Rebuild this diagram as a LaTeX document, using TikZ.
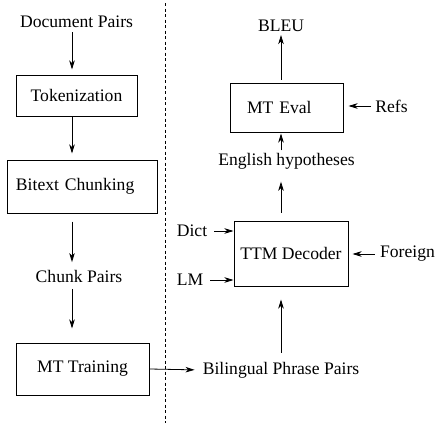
\documentclass[tikz,border=0pt]{standalone}
\usepackage{fontspec}
\setmainfont{Liberation Serif}
\usetikzlibrary{arrows.meta}

\begin{document}
\begin{tikzpicture}[
        x=1pt,
        y=-1pt,
        font=\fontsize{17.6}{21}\selectfont,
        >={Stealth[length=9pt,width=5.5pt,inset=2.5pt]},
        flow/.style={->, line width=0.8pt},
        stage/.style={draw, line width=1pt, inner sep=0pt, align=center},
        word/.style={inner sep=0pt},
        split/.style={dashed, dash pattern=on 3pt off 2.5pt, line width=0.8pt}
    ]
        \useasboundingbox (0,0) rectangle (437,423);

        % Columns for the vertical arrows on each side.
        \coordinate (lcol) at (72,0);
        \coordinate (rcol) at (281,0);

        % Training pipeline (left).
        \node[word] (doc) at (76.5,22) {Document Pairs};
        \node[stage, minimum width=121pt, minimum height=41pt] (tok) at (76.5,95.5) {Tokenization};
        \node[stage, text width=132pt, inner xsep=9pt, align=left, minimum height=53pt] (chunk) at (82,186.5) {Bitext Chunking};
        \node[word] (cpairs) at (79,276.5) {Chunk Pairs};
        \node[stage, minimum width=133pt, minimum height=52pt] (train) at (82.5,369) {MT Training};

        \draw[flow, shorten <=4pt, shorten >=5pt] (doc.south -| lcol) -- (tok.north -| lcol);
        \draw[flow, shorten >=6pt] (tok.south -| lcol) -- (chunk.north -| lcol);
        \draw[flow, shorten <=8pt, shorten >=8pt] (chunk.south -| lcol) -- (cpairs.north -| lcol);
        \draw[flow, shorten <=6pt, shorten >=14pt] (cpairs.south -| lcol) -- (train.north -| lcol);

        % Decoding and evaluation (right).
        \node[word] (phrase) at (281,370) {Bilingual Phrase Pairs};
        \node[stage, minimum width=114pt, minimum height=65pt] (decoder) at (291,253.5) {TTM Decoder};
        \node[word] (dict) at (192,231) {Dict};
        \node[word] (lm) at (190,280) {LM};
        \node[word] (foreign) at (407.5,254) {Foreign};
        \node[word] (hyp) at (286.5,161.5) {English hypotheses};
        \node[stage, text width=79pt, inner xsep=17pt, align=left, minimum height=49pt] (eval) at (286.5,107.5) {MT Eval};
        \node[word] (refs) at (391.5,106) {Refs};
        \node[word] (bleu) at (281,26) {BLEU};

        \draw[flow, shorten >=8pt] (train.east) -- (phrase.west);
        \draw[flow, shorten <=9pt, shorten >=13pt] (phrase.north -| rcol) -- (decoder.south -| rcol);
        \draw[flow, shorten <=7pt] (dict.east) -- (dict.east -| decoder.west);
        \draw[flow, shorten <=7pt] (lm.east) -- (lm.east -| decoder.west);
        \draw[flow, shorten <=5pt, shorten >=4pt] (foreign.west) -- (foreign.west -| decoder.east);
        \draw[flow, shorten <=8pt, shorten >=12pt] (decoder.north -| rcol) -- (hyp.south -| rcol);
        \draw[flow, shorten <=3pt, shorten >=1pt] (hyp.north -| rcol) -- (eval.south -| rcol);
        \draw[flow, shorten <=4pt, shorten >=5pt] (refs.west) -- (refs.west -| eval.east);
        \draw[flow, shorten <=3pt, shorten >=3pt] (eval.north -| rcol) -- (bleu.south -| rcol);

        % Dashed separator between the two halves.
        \draw[split] (165,3) -- (165,423);
    \end{tikzpicture}
\end{document}
